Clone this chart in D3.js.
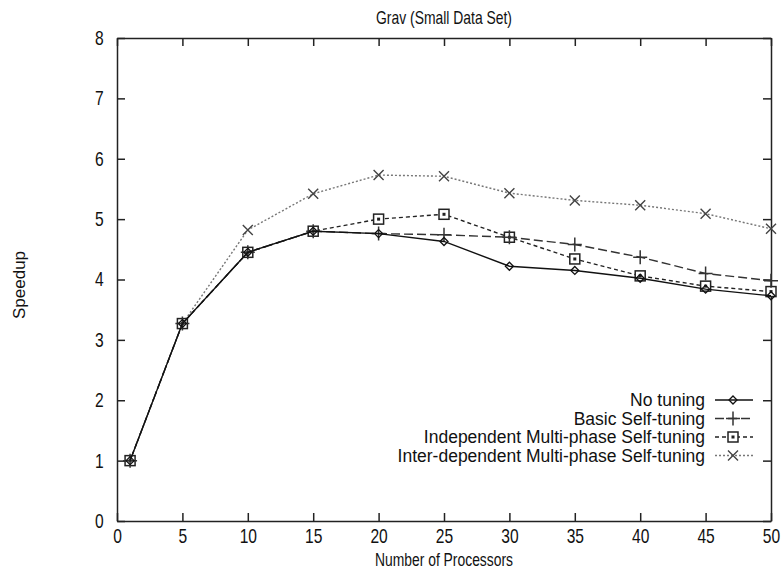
<!DOCTYPE html>
<html>
<head>
<meta charset="UTF-8">
<title>Grav (Small Data Set)</title>
<script src="https://d3js.org/d3.v7.min.js"></script>
<style>
    body {margin: 0; background: white;}
    text {font-family: "Liberation Sans", Arial, sans-serif; fill: #111;}
    .axis path, .axis line {stroke: #222; stroke-width: 1.5;}
</style>
</head>
<body>
<div id="chart"></div>
<script>

    // data
    var procs = [1, 5, 10, 15, 20, 25, 30, 35, 40, 45, 50];
    var noTuning   = [1, 3.27, 4.45, 4.8, 4.76, 4.63, 4.22, 4.15, 4.02, 3.84, 3.73];
    var basicSelf  = [1, 3.27, 4.45, 4.8, 4.76, 4.74, 4.7, 4.58, 4.37, 4.1, 3.98];
    var indepMulti = [1, 3.27, 4.45, 4.8, 5.0, 5.08, 4.7, 4.34, 4.06, 3.89, 3.8];
    var interMulti = [1, 3.27, 4.82, 5.42, 5.73, 5.71, 5.43, 5.31, 5.23, 5.09, 4.84];
    var seriesNames = ["No tuning", "Basic Self-tuning",
        "Independent Multi-phase Self-tuning", "Inter-dependent Multi-phase Self-tuning"];
    var xTicks = [0, 5, 10, 15, 20, 25, 30, 35, 40, 45, 50];
    var yTicks = [0, 1, 2, 3, 4, 5, 6, 7, 8];

    var W = 783, H = 570;
    var margin = {top: 38, right: 12, bottom: 49, left: 117},
        width = W - margin.left - margin.right,
        height = H - margin.top - margin.bottom;

    var x = d3.scaleLinear().domain([0, 50]).range([0, width]);
    var y = d3.scaleLinear().domain([0, 8]).range([height, 0]);

    var svg = d3.select("#chart").append("svg")
        .attr("width", W)
        .attr("height", H);

    var g = svg.append("g")
        .attr("transform", "translate(" + margin.left + "," + margin.top + ")");

    // axes, gnuplot style: inward ticks mirrored on all sides
    var tk = 8;
    g.append("g").attr("class", "axis")
        .attr("transform", "translate(0," + height + ")")
        .call(d3.axisBottom(x).tickValues(xTicks).tickSizeInner(-tk).tickSizeOuter(0).tickPadding(8));
    g.append("g").attr("class", "axis")
        .call(d3.axisTop(x).tickValues(xTicks).tickSizeInner(-tk).tickSizeOuter(0).tickFormat(""));
    g.append("g").attr("class", "axis")
        .call(d3.axisLeft(y).tickValues(yTicks).tickSizeInner(-tk).tickSizeOuter(0).tickPadding(17));
    g.append("g").attr("class", "axis")
        .attr("transform", "translate(" + width + ",0)")
        .call(d3.axisRight(y).tickValues(yTicks).tickSizeInner(-tk).tickSizeOuter(0).tickFormat(""));

    // the original labels are tall and narrow, squeeze them sideways
    g.selectAll(".axis text")
        .style("font-size", "20px")
        .style("font-family", "'Liberation Sans', Arial, sans-serif")
        .attr("transform", "scale(0.78,1)");
    g.selectAll(".axis .domain").attr("stroke", "#222");

    // titles
    svg.append("text")
        .attr("x", margin.left + width / 2).attr("y", 24)
        .attr("text-anchor", "middle").style("font-size", "19px")
        .attr("textLength", 136).attr("lengthAdjust", "spacingAndGlyphs")
        .text("Grav (Small Data Set)");
    svg.append("text")
        .attr("x", margin.left + width / 2).attr("y", 566)
        .attr("text-anchor", "middle").style("font-size", "18px")
        .attr("textLength", 138).attr("lengthAdjust", "spacingAndGlyphs")
        .text("Number of Processors");
    svg.append("text")
        .attr("transform", "translate(25,285) rotate(-90)")
        .attr("text-anchor", "middle").style("font-size", "17px")
        .text("Speedup");

    var styles = [
        {vals: noTuning,   color: "#111", dash: null,  mark: "diamond"},
        {vals: basicSelf,  color: "#333", dash: "9,4", mark: "plus"},
        {vals: indepMulti, color: "#222", dash: "4,3", mark: "square"},
        {vals: interMulti, color: "#777", dash: "2,2", mark: "cross"}
    ];

    function drawMark(sel, kind, cx, cy, color) {
        var s = 5;
        if (kind == "diamond") {
            sel.append("path")
                .attr("d", "M" + cx + "," + (cy - 4) + "L" + (cx + 4) + "," + cy + "L" + cx + "," + (cy + 4) + "L" + (cx - 4) + "," + cy + "Z")
                .attr("fill", "none").attr("stroke", color).attr("stroke-width", 1.3);
        } else if (kind == "plus") {
            sel.append("path")
                .attr("d", "M" + (cx - 7) + "," + cy + "H" + (cx + 7) + "M" + cx + "," + (cy - 7) + "V" + (cy + 7))
                .attr("stroke", color).attr("stroke-width", 1.5);
        } else if (kind == "square") {
            sel.append("rect")
                .attr("x", cx - s).attr("y", cy - s).attr("width", 2 * s).attr("height", 2 * s)
                .attr("fill", "white").attr("stroke", color).attr("stroke-width", 1.5);
            sel.append("rect")
                .attr("x", cx - 1.5).attr("y", cy - 1.5).attr("width", 3).attr("height", 3)
                .attr("fill", color);
        } else {
            sel.append("path")
                .attr("d", "M" + (cx - s) + "," + (cy - s) + "L" + (cx + s) + "," + (cy + s) + "M" + (cx - s) + "," + (cy + s) + "L" + (cx + s) + "," + (cy - s))
                .attr("stroke", "#444").attr("stroke-width", 1.4);
        }
    }

    var line = d3.line()
        .x(function(d, i) {return x(procs[i])})
        .y(function(d) {return y(d)});

    // draw back to front so the solid line ends on top
    styles.slice().reverse().forEach(function(st) {
        g.append("path")
            .datum(st.vals)
            .attr("fill", "none")
            .attr("stroke", st.color)
            .attr("stroke-width", 1.4)
            .attr("stroke-dasharray", st.dash)
            .attr("d", line);
        var mg = g.append("g");
        st.vals.forEach(function(v, i) {
            drawMark(mg, st.mark, x(procs[i]), y(v), st.color);
        });
    });

    // legend, bottom right inside the frame
    var leg = g.append("g");
    seriesNames.forEach(function(name, i) {
        var ly = 362 + i * 18.5;
        var st = styles[i];
        leg.append("text")
            .attr("x", 588).attr("y", ly + 6)
            .attr("text-anchor", "end").style("font-size", "17.5px")
            .text(name);
        leg.append("line")
            .attr("x1", 598).attr("x2", 636).attr("y1", ly).attr("y2", ly)
            .attr("stroke", st.color).attr("stroke-width", 1.4)
            .attr("stroke-dasharray", st.dash);
        drawMark(leg, st.mark, 616, ly, st.color);
    });

</script>
</body>
</html>
